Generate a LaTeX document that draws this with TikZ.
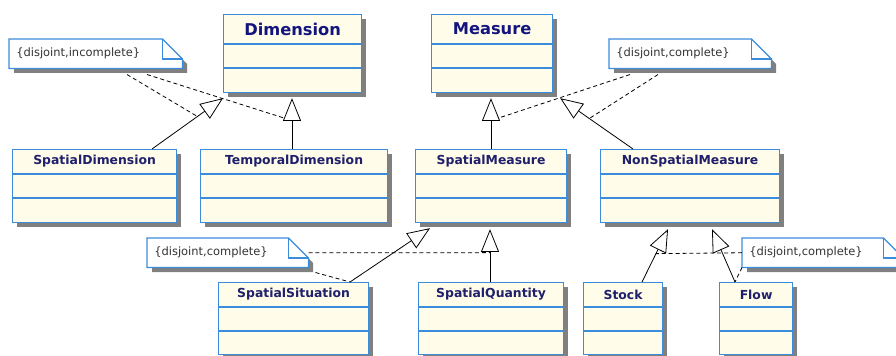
\documentclass[tikz,border=0pt]{standalone}
\usepackage{fontspec}
\setmainfont{DejaVu Sans}
\usetikzlibrary{arrows.meta,calc}

\definecolor{umlblue}{HTML}{3C8CDC}
\definecolor{umlfill}{HTML}{FFFDE9}
\definecolor{umlshade}{HTML}{808080}
\definecolor{umltext}{HTML}{1F1F6B}
\definecolor{umlbig}{HTML}{14147F}
\definecolor{notetext}{HTML}{333333}

\tikzset{
  classbox/.style={draw=umlblue, line width=0.9pt, fill=umlfill, inner sep=0pt, anchor=north west},
  classtitle/.style={font=\bfseries\fontsize{9.3}{11}\selectfont, text=umltext, inner sep=0pt},
  bigtitle/.style={font=\bfseries\fontsize{12.2}{14}\selectfont, text=umlbig, inner sep=0pt},
  compartment/.style={draw=umlblue, line width=0.9pt},
  gen/.style={draw=black, line width=0.6pt, -{Triangle[length=17pt,width=13.5pt,fill=white]}},
  constraint/.style={draw=black, line width=0.6pt, dash pattern=on 3pt off 2.2pt},
  notetxt/.style={font=\fontsize{8.6}{10}\selectfont, text=notetext, anchor=north west,
    align=left, inner xsep=5.25pt, inner ysep=0pt, minimum height=21.75pt},
  noteline/.style={draw=umlblue, line width=0.9pt},
}

% class box: name, x, y, width, height, title style, title, first and second compartment line
\newcommand\umlclass[9]{%
  \fill[umlshade] (#2+5,#3+5) rectangle (#2+#4+5,#3+#5+5);
  \node[classbox, minimum width=#4*0.75pt, minimum height=#5*0.75pt] (#1) at (#2,#3) {};
  \draw[compartment] ($(#1.north west)+(0,#8)$) -- ($(#1.north east)+(0,#8)$);
  \draw[compartment] ($(#1.north west)+(0,#9)$) -- ($(#1.north east)+(0,#9)$);
  \node[#6] (#1-title) at ($(#1.north)+(0,#8/2)$) {#7};
}

% constraint note with folded corner: name, x, y, width, text
\newcommand\umlnote[5]{%
  \pgfmathsetmacro\notetw{(#4-14)*0.75}%
  \fill[umlshade] (#2+5,#3+5) -- (#2+#4-15,#3+5) -- (#2+#4+5,#3+25) -- (#2+#4+5,#3+34) -- (#2+5,#3+34) -- cycle;
  \fill[white] (#2,#3) -- (#2+#4-20,#3) -- (#2+#4,#3+20) -- (#2+#4,#3+29) -- (#2,#3+29) -- cycle;
  \node[notetxt, text width=\notetw pt] (#1) at (#2,#3) {#5};
  \draw[noteline] (#1.north west) -- ($(#1.north east)+(-20,0)$) -- ($(#1.north east)+(0,20)$)
    -- (#1.south east) -- (#1.south west) -- cycle;
  \draw[noteline] ($(#1.north east)+(-20,0)$) -- ($(#1.north east)+(-20,20)$) -- ($(#1.north east)+(0,20)$);
}

\begin{document}
\begin{tikzpicture}[x=0.75pt, y=-0.75pt]
\useasboundingbox (0,0) rectangle (896,356);
\clip (0,0) rectangle (896,356);

% top level
\umlclass{dim}{223}{14}{138}{78}{bigtitle}{Dimension}{30}{54}
\umlclass{meas}{431}{14}{121}{78}{bigtitle}{Measure}{30}{54}

% second level
\umlclass{sdim}{12}{149}{164}{73}{classtitle}{SpatialDimension}{25}{49}
\umlclass{tdim}{200}{149}{187}{73}{classtitle}{TemporalDimension}{25}{49}
\umlclass{smeas}{415}{149}{151}{73}{classtitle}{SpatialMeasure}{25}{49}
\umlclass{nsmeas}{600}{149}{179}{73}{classtitle}{NonSpatialMeasure}{25}{49}

% third level
\umlclass{ssit}{218}{282}{150}{72}{classtitle}{SpatialSituation}{25}{49}
\umlclass{squant}{418}{282}{145}{72}{classtitle}{SpatialQuantity}{25}{49}
\umlclass{stock}{583}{282}{79}{72}{classtitle}{Stock}{25}{49}
\umlclass{flow}{719}{282}{73}{72}{classtitle}{Flow}{25}{49}

% constraint notes
\umlnote{n1}{9}{39}{173}{\{disjoint,incomplete\}}
\umlnote{n2}{609}{39}{162}{\{disjoint,complete\}}
\umlnote{n3}{147}{238}{161}{\{disjoint,complete\}}
\umlnote{n4}{742}{238}{161}{\{disjoint,complete\}}

% generalization end points
\coordinate (g1s) at ($(sdim.north west)+(140,0)$);
\coordinate (g1e) at ($(dim.south west)+(0,5)$);
\coordinate (g2s) at ($(tdim.north west)+(92,0)$);
\coordinate (g2e) at ($(dim.south west)+(69,5)$);
\coordinate (g3s) at ($(smeas.north west)+(76,0)$);
\coordinate (g3e) at ($(meas.south west)+(60,5)$);
\coordinate (g4s) at ($(nsmeas.north west)+(33,0)$);
\coordinate (g4e) at ($(meas.south east)+(7,5)$);
\coordinate (g5s) at ($(ssit.north west)+(132,0)$);
\coordinate (g5e) at ($(smeas.south west)+(15,5)$);
\coordinate (g6s) at ($(squant.north west)+(72,0)$);
\coordinate (g6e) at ($(smeas.south west)+(75,6)$);
\coordinate (g7s) at ($(stock.north west)+(59,0)$);
\coordinate (g7e) at ($(nsmeas.south west)+(68,6)$);
\coordinate (g8s) at ($(flow.north west)+(16,0)$);
\coordinate (g8e) at ($(nsmeas.south west)+(112,6)$);

% constraint links from the notes
\draw[constraint] ($(n1.south west)+(118,6)$) -- ($(g1s)!0.64!(g1e)$);
\draw[constraint] ($(n1.south west)+(138,6)$) -- ($(g2s)!0.56!(g2e)$);
\draw[constraint] ($(n2.south west)+(21,6)$) -- ($(g3s)!0.56!(g3e)$);
\draw[constraint] ($(n2.south west)+(49,6)$) -- ($(g4s)!0.6!(g4e)$);
\draw[constraint] (n3.east) -- ($(g6s)!0.556!(g6e)$);
\draw[constraint] ($(n3.south east)+(7,5)$) -- (g5s);
\draw[constraint] (n4.west) -- ($(g7s)!0.537!(g7e)$);
\draw[constraint] (n4.south west) -- (g8s);

% generalizations
\draw[gen] (g1s) -- (g1e);
\draw[gen] (g2s) -- (g2e);
\draw[gen] (g3s) -- (g3e);
\draw[gen] (g4s) -- (g4e);
\draw[gen] (g5s) -- (g5e);
\draw[gen] (g6s) -- (g6e);
\draw[gen] (g7s) -- (g7e);
\draw[gen] (g8s) -- (g8e);
\end{tikzpicture}
\end{document}
